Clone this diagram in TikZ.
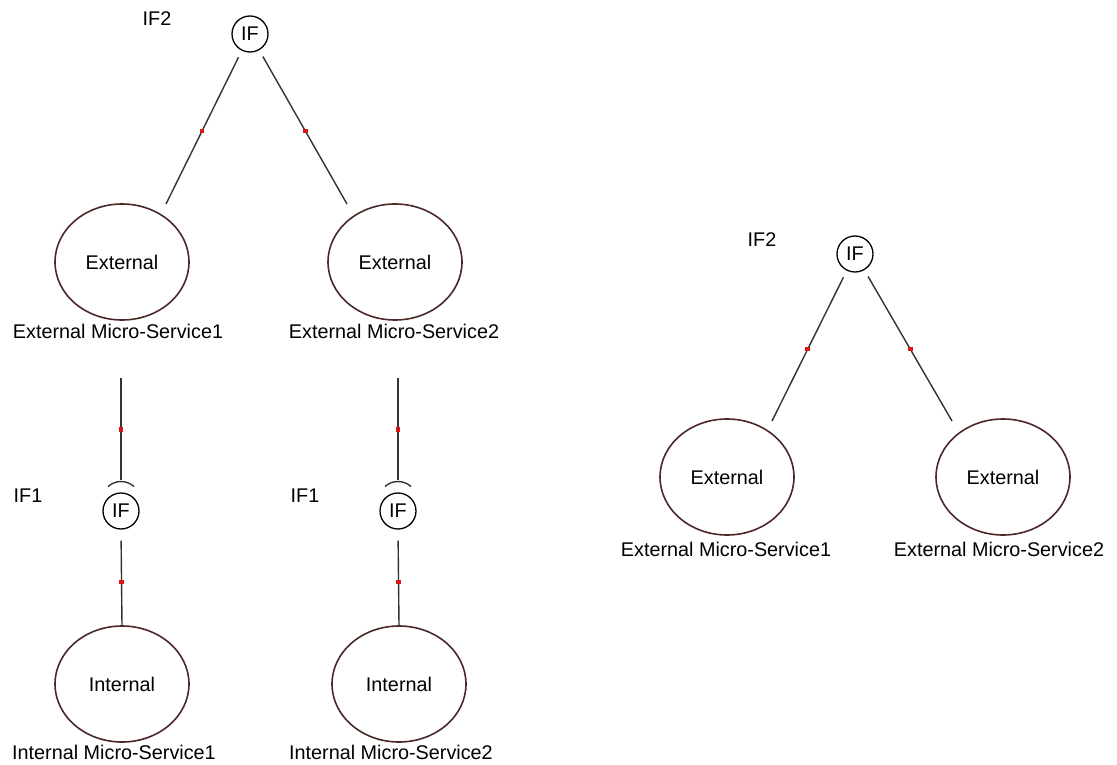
\documentclass[tikz,border=0pt]{standalone}
\usepackage{fontspec}
\setmainfont{Liberation Sans}
\usetikzlibrary{shapes.geometric}
\definecolor{svcline}{RGB}{75,40,40}
\definecolor{dotred}{RGB}{220,20,20}
\tikzset{
  txt/.style={font=\fontsize{19.8}{23}\selectfont, inner sep=0pt},
  iface/.style={circle, draw=black, line width=1.3pt, minimum size=36pt, inner sep=0pt, font=\fontsize{19.8}{23}\selectfont},
  svc/.style={ellipse, draw=svcline, line width=1.6pt, minimum width=134pt, minimum height=116pt, inner sep=0pt, font=\fontsize{19.8}{23}\selectfont},
  link/.style={draw=black!80, line width=1.4pt},
  reddot/.style={fill=dotred, minimum size=4.5pt, inner sep=0pt, rectangle},
}
\begin{document}
\begin{tikzpicture}[x=1pt, y=-1pt]
\useasboundingbox (0,0) rectangle (1117,765);

% ---------- left component ----------
\node[txt] (lblIFtop) at (157,19) {IF2};
\node[iface] (ifTop) at (250,34) {IF};

\node[svc] (ext1) at (122,262) {External};
\node[txt] (ext1lbl) at (118,331) {External Micro-Service1};
\node[svc] (ext2) at (395,262) {External};
\node[txt] (ext2lbl) at (394,331) {External Micro-Service2};

\coordinate (e1top) at (166,204);
\coordinate (e2top) at (347,204);
\draw[link, shorten <=26pt] (ifTop.center) -- node[reddot, pos=0.57]{} (e1top);
\draw[link, shorten <=26pt] (ifTop.center) -- node[reddot, pos=0.57]{} (e2top);

% provided/required interfaces between external and internal services
\foreach \cx/\n in {121/1, 398/2} {
  \node[txt] (lblIF\n) at (\cx-93,496) {IF1};
  \node[iface] (ifB\n) at (\cx,511) {IF};
  \node[svc] (int\n) at (\cx+1,684) {Internal};
  \coordinate (wireTop\n) at (\cx,378);
  \draw[link, shorten >=12pt] (wireTop\n) -- node[reddot, pos=0.45]{} (ifB\n.north);
  % socket of the required interface
  \draw[link] (\cx-13,486.5) arc[start angle=228, end angle=312, radius=19.4];
  \draw[link, shorten <=11pt] (ifB\n.south) -- node[reddot, pos=0.55]{} (int\n.north);
}
\node[txt] (int1lbl) at (114,752) {Internal Micro-Service1};
\node[txt] (int2lbl) at (391,752) {Internal Micro-Service2};

% ---------- right component ----------
\node[txt] (lblIFright) at (762,240) {IF2};
\node[iface] (ifR) at (855,254) {IF};
\node[svc] (ext3) at (727,477) {External};
\node[txt] (ext3lbl) at (726,549) {External Micro-Service1};
\node[svc] (ext4) at (1003,477) {External};
\node[txt] (ext4lbl) at (999,549) {External Micro-Service2};

\coordinate (e3top) at (772,421);
\coordinate (e4top) at (952,421);
\draw[link, shorten <=26pt] (ifR.center) -- node[reddot, pos=0.57]{} (e3top);
\draw[link, shorten <=26pt] (ifR.center) -- node[reddot, pos=0.57]{} (e4top);
\end{tikzpicture}
\end{document}
